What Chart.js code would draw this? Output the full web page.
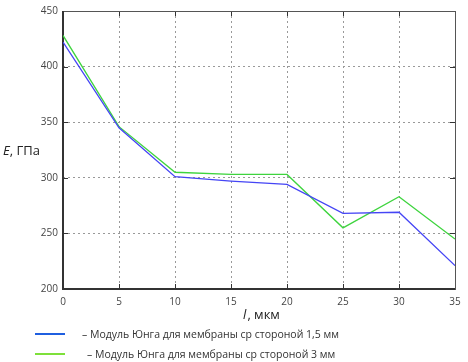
<!DOCTYPE html>
<html><head><meta charset="utf-8">
<script src="https://cdn.jsdelivr.net/npm/chart.js@4"></script>
<style>
html,body{margin:0;padding:0;background:#fff;}
#wrap{position:relative;width:468px;height:362px;}
.leg{position:absolute;font-family:"Open Sans",sans-serif;font-size:10.5px;line-height:14px;color:#333;white-space:nowrap;}
.ln{position:absolute;height:2px;}
</style></head>
<body>
<div id="wrap">
<canvas id="c" width="468" height="362"></canvas>
<div class="ln" style="left:35px;top:333px;width:30px;background:#1f5fe0"></div>
<div class="leg" style="left:82px;top:327px">– Модуль Юнга для мембраны ср стороной 1,5 мм</div>
<div class="ln" style="left:35px;top:353px;width:30px;background:#7ee03a"></div>
<div class="leg" style="left:87px;top:347px">– Модуль Юнга для мембраны ср стороной 3 мм</div>
</div>
<script>
const xValues = [0, 5, 10, 15, 20, 25, 30, 35];
const blueValues = [422, 345, 301, 297, 294, 268, 269, 221];
const greenValues = [428, 346, 305, 303, 303, 255, 283, 245];
const yTicks = [200, 250, 300, 350, 400, 450];
const xTitle = ["l", ", мкм"];
const yTitle = ["E", ", ГПа"];

const deco = {
  id: 'deco',
  beforeDatasetsDraw(chart) {
    const {ctx, chartArea: a, scales: {x, y}} = chart;
    ctx.save();
    ctx.strokeStyle = '#333';
    ctx.lineWidth = 1;
    ctx.beginPath();
    xValues.forEach(v => {
      const px = Math.round(x.getPixelForValue(v)) + 0.5;
      ctx.moveTo(px, a.bottom); ctx.lineTo(px, a.bottom - 5);
      ctx.moveTo(px, a.top); ctx.lineTo(px, a.top + 5);
    });
    yTicks.forEach(v => {
      const py = Math.round(y.getPixelForValue(v)) + 0.5;
      ctx.moveTo(a.left, py); ctx.lineTo(a.left + 5, py);
      ctx.moveTo(a.right, py); ctx.lineTo(a.right - 5, py);
    });
    ctx.stroke();
    ctx.strokeStyle = '#555';
    ctx.strokeRect(Math.round(a.left) + 0.5, Math.round(a.top) + 0.5, Math.round(a.right - a.left), Math.round(a.bottom - a.top));
    ctx.strokeStyle = '#333';
    ctx.lineWidth = 2;
    ctx.beginPath();
    ctx.moveTo(a.left, a.top); ctx.lineTo(a.left, a.bottom); ctx.lineTo(a.right, a.bottom);
    ctx.stroke();
    ctx.restore();
  },
  afterDraw(chart) {
    const {ctx, chartArea: a} = chart;
    ctx.save();
    ctx.fillStyle = '#222';
    ctx.textBaseline = 'middle';
    ctx.textAlign = 'left';
    // y title
    ctx.font = 'italic 13px "Open Sans"';
    const w1 = ctx.measureText(yTitle[0]).width;
    ctx.fillText(yTitle[0], 3, 151);
    ctx.font = '13px "Open Sans"';
    ctx.fillText(yTitle[1], 3 + w1, 151);
    // x title
    ctx.font = 'italic 13px "Open Sans"';
    const wl = ctx.measureText(xTitle[0]).width;
    ctx.font = '13px "Open Sans"';
    const wr = ctx.measureText(xTitle[1]).width;
    const cx = (a.left + a.right) / 2 - (wl + wr) / 2 + 2;
    ctx.font = 'italic 13px "Open Sans"';
    ctx.fillText(xTitle[0], cx, 315);
    ctx.font = '13px "Open Sans"';
    ctx.fillText(xTitle[1], cx + wl + 1, 315);
    ctx.restore();
  }
};

new Chart(document.getElementById('c'), {
  type: 'line',
  data: {
    datasets: [
      {data: xValues.map((v, i) => ({x: v, y: blueValues[i]})), borderColor: '#4545f5', borderWidth: 1.3, pointRadius: 0, tension: 0},
      {data: xValues.map((v, i) => ({x: v, y: greenValues[i]})), borderColor: '#3ed43e', borderWidth: 1.3, pointRadius: 0, tension: 0}
    ]
  },
  options: {
    responsive: false,
    animation: false,
    layout: {padding: {left: 0, right: 13, top: 9, bottom: 53}},
    plugins: {legend: {display: false}, tooltip: {enabled: false}},
    scales: {
      x: {
        type: 'linear', min: 0, max: 35,
        afterBuildTicks: s => { s.ticks = xValues.map(v => ({value: v})); },
        afterFit: s => { s.height = 20; },
        grid: {color: '#999', lineWidth: 1, drawTicks: false},
        border: {display: false, dash: [2, 3]},
        ticks: {padding: 7, color: '#444', font: {family: 'Open Sans', size: 10}, maxRotation: 0}
      },
      y: {
        type: 'linear', min: 200, max: 450,
        afterBuildTicks: s => { s.ticks = yTicks.map(v => ({value: v})); },
        afterFit: s => { s.width = 63; },
        grid: {color: '#999', lineWidth: 1, drawTicks: false},
        border: {display: false, dash: [2, 3]},
        ticks: {padding: 5, color: '#444', font: {family: 'Open Sans', size: 10}}
      }
    }
  },
  plugins: [deco]
});
</script>
</body></html>
